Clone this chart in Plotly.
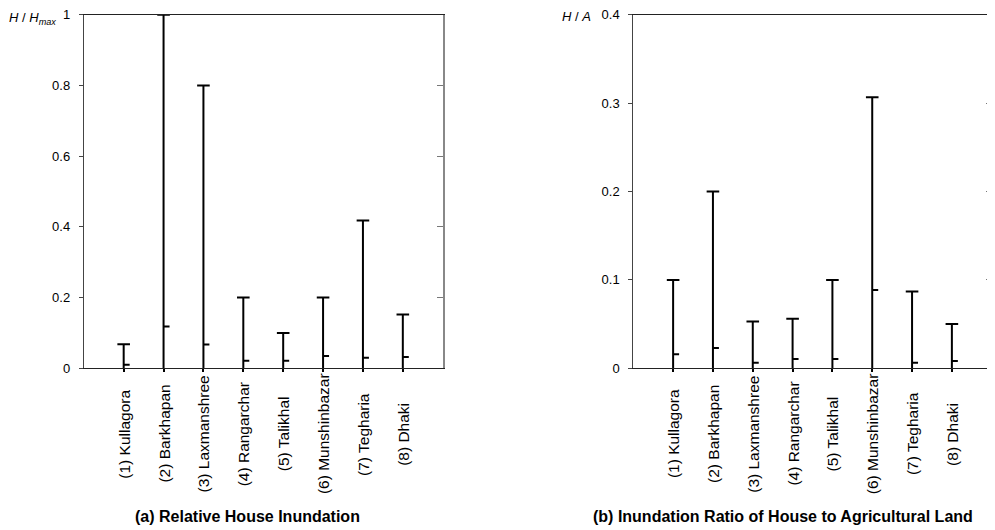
import plotly.graph_objects as go

labels = ["(1) Kullagora", "(2) Barkhapan", "(3) Laxmanshree", "(4) Rangarchar",
          "(5) Talikhal", "(6) Munshinbazar", "(7) Tegharia", "(8) Dhaki"]
positions = [1, 2, 3, 4, 5, 6, 7, 8]

house_max = [0.068, 1.0, 0.8, 0.2, 0.1, 0.2, 0.418, 0.152]
house_mid = [0.010, 0.118, 0.067, 0.021, 0.021, 0.035, 0.030, 0.032]

ratio_max = [0.1, 0.2, 0.053, 0.056, 0.1, 0.3065, 0.087, 0.050]
ratio_mid = [0.016, 0.023, 0.0064, 0.0105, 0.0105, 0.0887, 0.0064, 0.0083]

left_ticks = [0, 0.2, 0.4, 0.6, 0.8, 1]
left_ticktext = ["0", "0.2", "0.4", "0.6", "0.8", "1"]
right_ticks = [0, 0.1, 0.2, 0.3, 0.4]
right_ticktext = ["0", "0.1", "0.2", "0.3", "0.4"]

FONT = "Liberation Sans, Arial, sans-serif"
# page body has an 8px margin; the figure starts at (8, 8) in the window
OFF = 8
W, H = 995 - OFF, 530 - OFF


def px(xp):
    return (xp - OFF) / W


def py(yp):
    return 1 - (yp - OFF) / H


fig = go.Figure()


def add_panel(xa, ya, maxv, midv):
    xs, ys = [], []
    for p, m in zip(positions, maxv):
        xs += [p, p, None]
        ys += [0, m, None]
    fig.add_trace(go.Scatter(x=xs, y=ys, mode="lines", xaxis=xa, yaxis=ya,
                             line=dict(color="black", width=2),
                             showlegend=False, hoverinfo="skip"))
    fig.add_trace(go.Scatter(x=positions, y=maxv, mode="markers", xaxis=xa, yaxis=ya,
                             marker=dict(symbol="line-ew", size=9, color="black",
                                         line=dict(color="black", width=2)),
                             showlegend=False, hoverinfo="skip"))
    fig.add_trace(go.Scatter(x=positions, y=midv, mode="markers", xaxis=xa, yaxis=ya,
                             marker=dict(size=0.1, color="rgba(0,0,0,0)"),
                             error_x=dict(type="data", symmetric=False,
                                          array=[0.15] * len(positions),
                                          arrayminus=[0] * len(positions),
                                          width=0, thickness=2, color="black"),
                             showlegend=False, hoverinfo="skip"))


add_panel("x", "y", house_max, house_mid)
add_panel("x2", "y2", ratio_max, ratio_mid)

# dummy traces for mirrored right axes
fig.add_trace(go.Scatter(x=[None], y=[None], xaxis="x", yaxis="y3", showlegend=False, hoverinfo="skip"))
fig.add_trace(go.Scatter(x=[None], y=[None], xaxis="x2", yaxis="y4", showlegend=False, hoverinfo="skip"))

ydom = [py(368.3), py(14.7)]
x1dom = [px(83.8), px(442.7)]
x2dom = [px(633.3), min(1.0, px(991.7))]

common_x = dict(range=[0, 9], showgrid=False, zeroline=False, showline=True,
                linecolor="#222", linewidth=1, mirror=True, tickvals=positions,
                showticklabels=False, ticks="outside", ticklen=3, tickwidth=2,
                tickcolor="black", automargin=False)
common_y = dict(showgrid=False, zeroline=False, showline=True, linecolor="#444",
                linewidth=1, ticks="outside", ticklen=4, tickcolor="#444",
                tickfont=dict(family=FONT, size=13, color="black"),
                ticklabelstandoff=6, automargin=False, ticklabeloverflow="allow")
mirror_y = dict(showticklabels=False, ticks="inside", ticklen=6, tickcolor="#777",
                showline=True, linecolor="#888", linewidth=2, showgrid=False,
                zeroline=False, automargin=False)

fig.update_layout(
    width=W, height=H, margin=dict(l=0, r=0, t=0, b=0, pad=0, autoexpand=False),
    plot_bgcolor="white", paper_bgcolor="white",
    font=dict(family=FONT, size=13, color="black"),
    xaxis=dict(domain=x1dom, anchor="y", **common_x),
    xaxis2=dict(domain=x2dom, anchor="y2", **common_x),
    yaxis=dict(domain=ydom, anchor="x", range=[0, 1], tickvals=left_ticks,
               ticktext=left_ticktext, **common_y),
    yaxis2=dict(domain=ydom, anchor="x2", range=[0, 0.4], tickvals=right_ticks,
                ticktext=right_ticktext, **common_y),
    yaxis3=dict(overlaying="y", side="right", anchor="x", range=[0, 1],
                tickvals=left_ticks, **mirror_y),
    yaxis4=dict(overlaying="y2", side="right", anchor="x2", range=[0, 0.4],
                tickvals=right_ticks, **mirror_y),
)

ann = []
label_y = py(434)
for xref in ["x", "x2"]:
    for p, lab in zip(positions, labels):
        ann.append(dict(x=p, y=label_y, xref=xref, yref="paper", text=lab,
                        textangle=-90, showarrow=False, xanchor="center",
                        yanchor="middle", font=dict(family=FONT, size=15.5, color="black")))

ann.append(dict(x=px(247), y=py(516), xref="paper", yref="paper",
                text="<b>(a) Relative House Inundation</b>", showarrow=False,
                xanchor="center", yanchor="middle", font=dict(family=FONT, size=16)))
ann.append(dict(x=px(783), y=py(516), xref="paper", yref="paper",
                text="<b>(b) Inundation Ratio of House to Agricultural Land</b>",
                showarrow=False, xanchor="center", yanchor="middle",
                font=dict(family=FONT, size=16)))
ann.append(dict(x=px(58), y=py(19), xref="paper", yref="paper",
                text="<i>H</i> / <i>H</i><sub><i>max</i></sub>", showarrow=False,
                xanchor="right", yanchor="middle", font=dict(family=FONT, size=13)))
ann.append(dict(x=px(593), y=py(16), xref="paper", yref="paper",
                text="<i>H</i> / <i>A</i>", showarrow=False,
                xanchor="right", yanchor="middle", font=dict(family=FONT, size=13)))
fig.update_layout(annotations=ann)

fig.write_html("out.html")
